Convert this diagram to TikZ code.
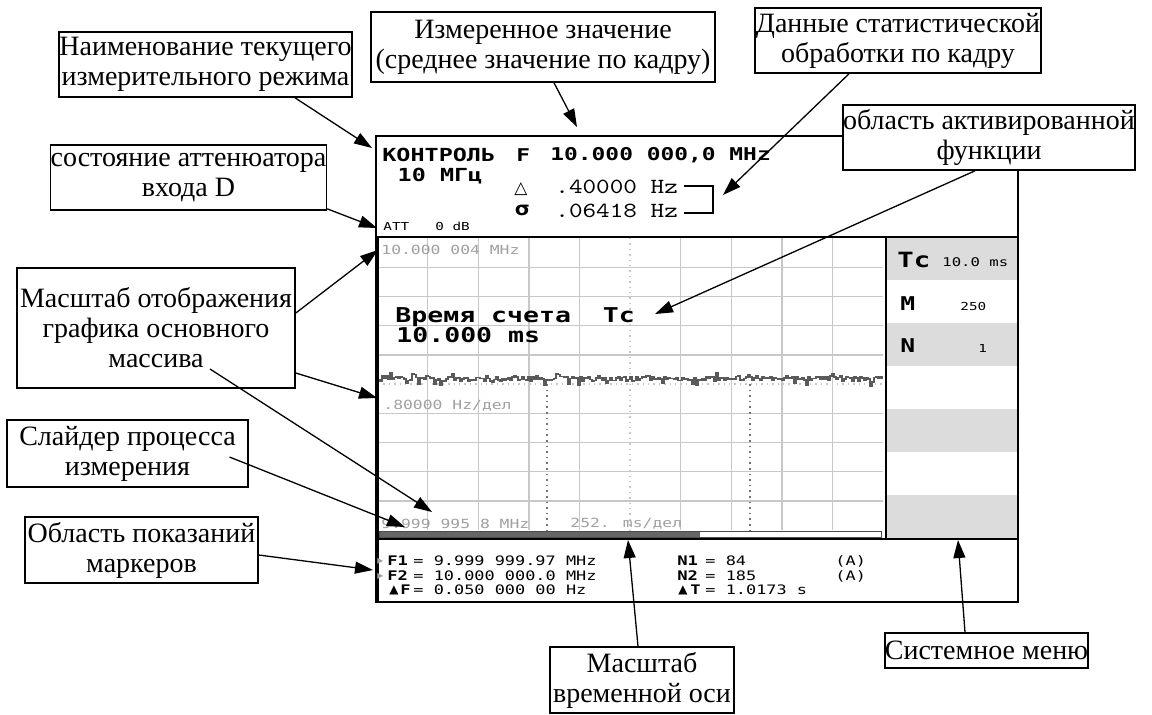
\documentclass[tikz,border=0pt]{standalone}
\usepackage{fontspec}
\setmainfont{Liberation Serif}
\newfontfamily\px[FakeStretch=1.3]{DejaVu Sans Mono}
\newfontfamily\sym{DejaVu Sans}
\newfontfamily\crt[Extension=.otf,FakeStretch=1.2]{lmmono10-regular}
\usetikzlibrary{arrows.meta}
\definecolor{gridcol}{HTML}{C8C8C8}
\definecolor{panelgray}{HTML}{DCDCDC}
\definecolor{labelgray}{HTML}{A0A0A0}
\definecolor{tracecol}{HTML}{5A5A5A}
\begin{document}
\begin{tikzpicture}[x=0.5pt,y=-0.5pt,
  ann/.style={draw=black, line width=0.8pt, fill=white, align=center, inner sep=0pt, font=\fontsize{14}{15}\selectfont},
  arr/.style={line width=0.65pt, -{Triangle[length=9pt,width=6pt]}},
  gridl/.style={draw=gridcol, line width=0.7pt},
  txt/.style={anchor=west, inner sep=0pt},
  glab/.style={txt, text=labelgray, font=\px\fontsize{6.3}{7}\selectfont},
  mk/.style={txt, font=\px\fontsize{6.5}{7}\selectfont},
  mkb/.style={txt, font=\px\bfseries\fontsize{6.6}{7}\selectfont},
  scr/.style={line width=1pt}]
\useasboundingbox (0,0) rectangle (1152,714);
\fill[white] (0,0) rectangle (1152,714);

% ---------- right menu panel bands
\foreach \a/\b in {237/280,323/366,409/452,495/538}
  \fill[panelgray] (887,\a) rectangle (1017,\b);

% ---------- grid
\foreach \k in {1,2,3,4,6,7,8,9}{
  \draw[gridl] ({377+50.6*\k},238) -- ({377+50.6*\k},530);
  \draw[gridl] (378,{238+29.2*\k}) -- (883,{238+29.2*\k});
}
\draw[gridl, dotted] (630,238) -- (630,530);
\draw[gridl, dotted] (378,384) -- (883,384);
\draw[black!55, dotted, line width=0.8pt] (547,384) -- (547,530);
\draw[black!55, dotted, line width=0.8pt] (750,384) -- (750,530);

% ---------- trace
\pgfmathsetseed{29}
\draw[tracecol, line width=0.85pt, const plot] plot[samples=253, domain=378:882]
  (\x,{376 + 5*rnd + 6*(rnd>0.93) - 4*(rnd>0.95)});

% ---------- slider
\fill[black!60] (379,531) rectangle (700,537);
\draw[black!70, line width=0.5pt] (379,531) rectangle (881,537);

% ---------- screen frame
\draw[scr] (376,136) -- (1018,136) -- (1018,602) -- (376,602) -- cycle;
\draw[line width=1.6pt] (377,237) -- (377,602);
\draw[scr] (376,237) -- (1018,237);
\draw[scr] (376,539) -- (1018,539);
\draw[line width=1.2pt] (886,237) -- (886,539);

% ---------- header texts
\node[txt, font=\px\bfseries\fontsize{9}{9}\selectfont] (mode) at (382,155) {КОНТРОЛЬ};
\node[inner sep=0pt, font=\px\bfseries\fontsize{9}{9}\selectfont] (freq) at (440,176) {10 МГц};
\node[txt, font=\px\bfseries\fontsize{8.8}{9}\selectfont] (F) at (516,155) {F};
\node[txt, font=\px\bfseries\fontsize{8.8}{9}\selectfont] (val) at (550,155) {10.000 000,0 MHz};
\node[inner sep=0pt, font=\sym\bfseries\fontsize{8.5}{9}\selectfont] (dsym) at (521,189) {△};
\node[txt, font=\crt\fontsize{10.8}{11}\selectfont] (dval) at (555,187) {.40000 Hz};
\node[inner sep=0pt, font=\px\bfseries\fontsize{9.5}{10}\selectfont] (ssym) at (522,210) {σ};
\node[txt, font=\crt\fontsize{10.8}{11}\selectfont] (sval) at (555,211) {.06418 Hz};
\draw[line width=0.8pt] (684,186) -- (713,186) -- (713,213) -- (684,213);
\node[txt, font=\px\fontsize{5.5}{6}\selectfont] (att) at (383,226) {ATT};
\node[txt, font=\px\fontsize{5.5}{6}\selectfont] (attv) at (435,226) {0 dB};

% ---------- graph texts
\node[glab] (top) at (381,250) {10.000 004 MHz};
\node[glab] (scl) at (383,406) {.80000 Hz/дел};
\node[glab] (bot) at (381,524) {9.999 995 8 MHz};
\node[glab] (tsc) at (570,524) {252. ms/дел};
\node[txt, font=\px\bfseries\fontsize{10.2}{11}\selectfont] (act1) at (395,317) {Время счета~~Тс};
\node[txt, font=\px\bfseries\fontsize{10.2}{11}\selectfont] (act2) at (396,335) {10.000 ms};

% ---------- menu texts
\node[txt, font=\px\bfseries\fontsize{10.5}{11}\selectfont] (mTc) at (897,260) {Тс};
\node[txt, font=\px\fontsize{6}{6}\selectfont] (mTcv) at (942,262) {10.0 ms};
\node[txt, font=\px\bfseries\fontsize{9.5}{10}\selectfont] (mM) at (900,304) {M};
\node[txt, font=\px\fontsize{5.5}{6}\selectfont] (mMv) at (960,306) {250};
\node[txt, font=\px\bfseries\fontsize{9.5}{10}\selectfont] (mN) at (900,346) {N};
\node[txt, font=\px\fontsize{5.5}{6}\selectfont] (mNv) at (978,348) {1};

% ---------- marker readouts
\node[txt, text=labelgray, font=\sym\fontsize{6}{6}\selectfont] (p1) at (377,561) {▸};
\node[mkb] (f1) at (387,561) {F1};
\node[mk] (f1v) at (413,561) {= 9.999 999.97 MHz};
\node[txt, text=labelgray, font=\sym\fontsize{6}{6}\selectfont] (p2) at (377,576) {▸};
\node[mkb] (f2) at (387,576) {F2};
\node[mk] (f2v) at (413,576) {= 10.000 000.0 MHz};
\node[txt, font=\sym\fontsize{6}{6}\selectfont] (d1) at (389,590) {▲};
\node[mkb] (df) at (400,590) {F};
\node[mk] (dfv) at (413,590) {= 0.050 000 00 Hz};
\node[mkb] (n1) at (677,561) {N1};
\node[mk] (n1v) at (705,561) {= 84};
\node[mkb] (n2) at (677,576) {N2};
\node[mk] (n2v) at (705,576) {= 185};
\node[txt, font=\sym\fontsize{6}{6}\selectfont] (d2) at (678,590) {▲};
\node[mkb] (dt) at (690,590) {T};
\node[mk] (dtv) at (705,590) {= 1.0173 s};
\node[mk] (a1) at (835,561) {(A)};
\node[mk] (a2) at (835,576) {(A)};

% ---------- arrow targets
\coordinate (tA) at (372,148);
\coordinate (tB) at (577,127);
\coordinate (tC) at (723,195);
\coordinate (tD) at (655,314);
\coordinate (tE) at (377,228);
\coordinate (tF1) at (378,250);
\coordinate (tF2) at (377,398);
\coordinate (tF3) at (432,512);
\coordinate (tG) at (405,527);
\coordinate (tH) at (373,570);
\coordinate (tI) at (628,540);
\coordinate (tJ) at (958,540);

% ---------- annotation boxes
\node[ann, minimum width=146.5pt, minimum height=32.5pt] (A) at (205.5,64.5) {Наименование текущего\\измерительного режима};
\node[ann, minimum width=172pt, minimum height=35pt] (B) at (543,47) {Измеренное значение\\(среднее значение по кадру)};
\node[ann, minimum width=143pt, minimum height=32.5pt] (C) at (898,40.5) {Данные статистической\\обработки по кадру};
\node[ann, minimum width=141pt, minimum height=32.5pt] (D) at (989,137.5) {область активированной\\функции};
\node[ann, minimum width=137.5pt, minimum height=32.5pt] (E) at (188.5,177.5) {состояние аттенюатора\\входа D};
\node[ann, minimum width=139pt, minimum height=60pt] (F) at (156,328) {Масштаб отображения\\графика основного\\массива};
\node[ann, minimum width=120.5pt, minimum height=33.5pt] (G) at (127.5,453.5) {Слайдер процесса\\измерения};
\node[ann, minimum width=116.5pt, minimum height=33pt] (H) at (141.5,550) {Область показаний\\маркеров};
\node[ann, minimum width=92pt, minimum height=33pt] (I) at (642,680) {Масштаб\\временной оси};
\node[ann, minimum width=101.5pt, minimum height=17.5pt] (J) at (986.5,650.5) {Системное меню};

% ---------- connectors
\draw[arr] ([xshift=44.75pt]A.south) -- (tA);
\draw[arr] ([xshift=5.5pt]B.south) -- (tB);
\draw[arr] ([xshift=-24.5pt]C.south) -- (tC);
\draw[arr] ([xshift=-7pt]D.south) -- (tD);
\draw[arr] ([yshift=1pt]E.south east) -- (tE);
\draw[arr] ([yshift=7.5pt]F.east) -- (tF1);
\draw[arr] ([yshift=-22.5pt]F.east) -- (tF2);
\draw[arr] ([xshift=27pt,yshift=-20.5pt]F.center) -- (tF3);
\draw[arr] ([xshift=51pt,yshift=-1.75pt]G.center) -- (tG);
\draw[arr] ([yshift=-2.5pt]H.east) -- (tH);
\draw[arr] ([xshift=-2pt]I.north) -- (tI);
\draw[arr] ([xshift=-10.75pt]J.north) -- (tJ);
\end{tikzpicture}
\end{document}
